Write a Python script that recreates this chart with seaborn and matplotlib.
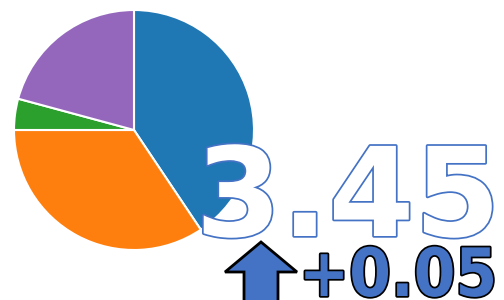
import matplotlib
matplotlib.use("Agg")
import matplotlib.pyplot as plt
import matplotlib.patheffects as pe
from matplotlib.patches import FancyArrow
import seaborn as sns

# data
slice_labels = ["A", "B", "C", "D"]
slice_shares = [40.6, 34.4, 4.2, 20.8]
kpi_value = 3.45
kpi_delta = 0.05

sns.set_style("white")
palette = sns.color_palette("tab10")
slice_colors = [palette[0], palette[1], palette[2], palette[4]]

fig = plt.figure(figsize=(5.04, 3.0), dpi=100)

# pie in the top-left corner
ax = fig.add_axes([14 / 504, 50 / 300, 240 / 504, 240 / 300])
ax.pie(slice_shares, colors=slice_colors, startangle=90, counterclock=False,
       wedgeprops=dict(edgecolor="white", linewidth=1.5))
ax.set_xlim(-1, 1)
ax.set_ylim(-1, 1)
ax.set_aspect("equal")
ax.axis("off")

# overlay in pixel coordinates for the KPI text and arrow
ov = fig.add_axes([0, 0, 1, 1])
ov.set_xlim(0, 504)
ov.set_ylim(300, 0)
ov.axis("off")

kpi_blue = "#4472C4"
ov.text(348, 236, f"{kpi_value:.2f}", fontsize=89, color="white",
        fontweight="bold", ha="center", va="baseline", family="DejaVu Sans",
        path_effects=[pe.withStroke(linewidth=2.5, foreground=kpi_blue)])

ov.text(398, 296, f"{kpi_delta:+.2f}", fontsize=48, color=kpi_blue,
        fontweight="bold", fontstretch="condensed",
        ha="center", va="baseline", family="DejaVu Sans",
        path_effects=[pe.withStroke(linewidth=2.5, foreground="black")])

ov.add_patch(FancyArrow(261, 315, 0, -73, width=34, head_width=72,
                        head_length=30, length_includes_head=True,
                        facecolor=kpi_blue, edgecolor="black", linewidth=2))

fig.savefig("out.png", dpi=100)
